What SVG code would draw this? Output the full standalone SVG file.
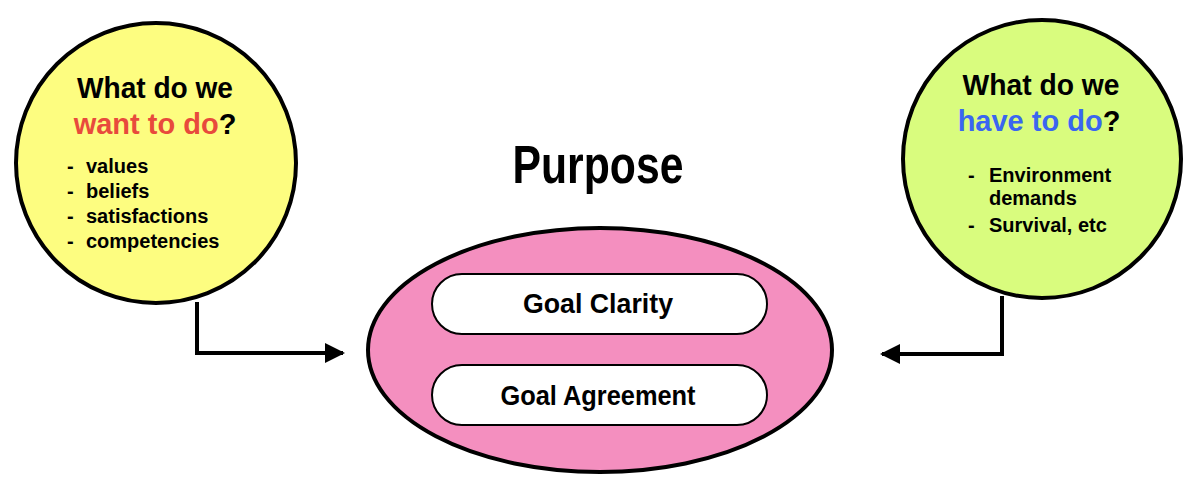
<svg xmlns="http://www.w3.org/2000/svg" width="1189" height="495" viewBox="0 0 1189 495">
<defs>
<style>
.t{font-family:"Liberation Sans","DejaVu Sans",sans-serif;font-weight:bold;fill:#000}
.h{font-size:29px;text-anchor:middle}
.li{font-size:20px}
.line{fill:none;stroke:#000;stroke-width:4}
.pill{fill:#fff;stroke:#000;stroke-width:2}
</style>
<marker id="ah" viewBox="0 0 10 10" refX="9" refY="5" markerWidth="5" markerHeight="5" orient="auto" markerUnits="strokeWidth"><path d="M0,0 L10,5 L0,10 z" fill="#000"/></marker>
</defs>
<rect width="1189" height="495" fill="#fff"/>
<g id="connectors">
<path class="line" d="M197,302 V353 H343" marker-end="url(#ah)"/>
<path class="line" d="M1002,296 V354 H882" marker-end="url(#ah)"/>
</g>
<g id="want">
<circle cx="156" cy="163" r="140" fill="#fdfd80" stroke="#000" stroke-width="4"/>
<text class="t h" x="155" y="98" textLength="156" lengthAdjust="spacingAndGlyphs">What do we</text>
<text class="t h" x="155" y="134"><tspan fill="#e84a3c">want to do</tspan>?</text>
<text class="t li" x="67" y="173">-</text><text class="t li" x="86" y="173">values</text>
<text class="t li" x="67" y="198">-</text><text class="t li" x="86" y="198">beliefs</text>
<text class="t li" x="67" y="223">-</text><text class="t li" x="86" y="223">satisfactions</text>
<text class="t li" x="67" y="248">-</text><text class="t li" x="86" y="248">competencies</text>
</g>
<g id="have">
<circle cx="1042" cy="159" r="139" fill="#d9fc7e" stroke="#000" stroke-width="4"/>
<text class="t h" x="1041" y="95" textLength="157" lengthAdjust="spacingAndGlyphs">What do we</text>
<text class="t h" x="1039" y="131"><tspan fill="#3a66f0">have to do</tspan>?</text>
<text class="t li" x="968" y="182">-</text><text class="t li" x="989" y="182">Environment</text>
<text class="t li" x="989" y="205">demands</text>
<text class="t li" x="968" y="232">-</text><text class="t li" x="989" y="232">Survival, etc</text>
</g>
<g id="purpose-title">
<text class="t" x="598" y="183" font-size="54" text-anchor="middle" textLength="171" lengthAdjust="spacingAndGlyphs">Purpose</text>
</g>
<g id="purpose">
<ellipse cx="600" cy="350" rx="232" ry="122" fill="#f48fbf" stroke="#000" stroke-width="4"/>
</g>
<g id="clarity">
<rect class="pill" x="432" y="274" width="335" height="60" rx="30"/>
<text class="t" x="598" y="313" font-size="28" text-anchor="middle" textLength="150" lengthAdjust="spacingAndGlyphs">Goal Clarity</text>
</g>
<g id="agreement">
<rect class="pill" x="432" y="365" width="335" height="60" rx="30"/>
<text class="t" x="598" y="405" font-size="28" text-anchor="middle" textLength="195" lengthAdjust="spacingAndGlyphs">Goal Agreement</text>
</g>
</svg>
